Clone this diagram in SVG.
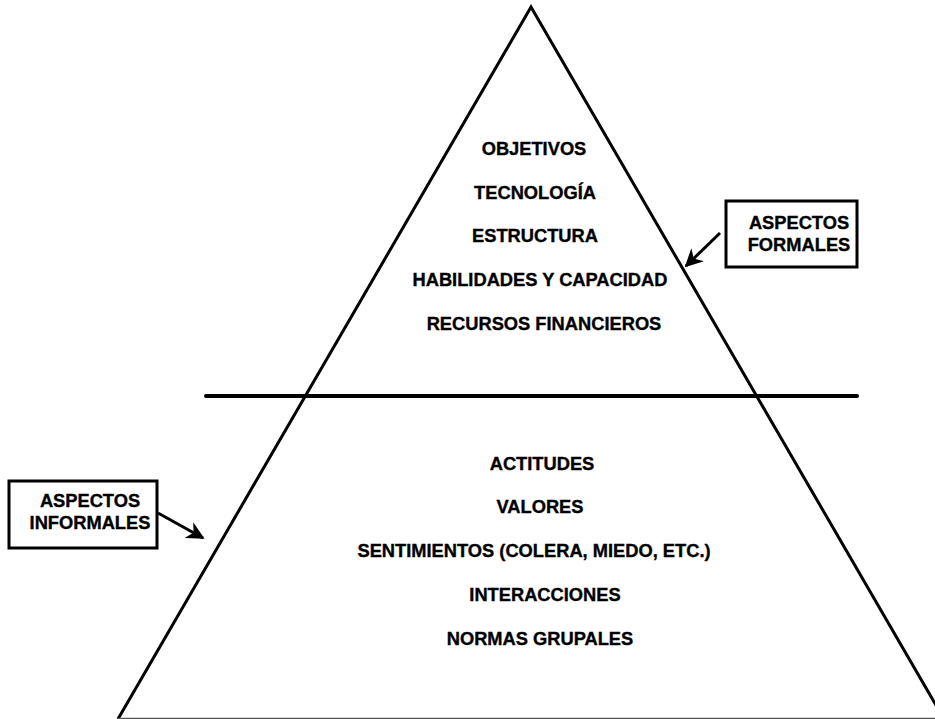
<svg xmlns="http://www.w3.org/2000/svg" width="935" height="719" viewBox="0 0 935 719">
<style>
.t{font-family:"Liberation Sans",Arial,sans-serif;font-weight:bold;font-size:18.3px;fill:#000;stroke:#000;stroke-width:0.35}
.edge{fill:none;stroke:#000;stroke-width:3}
.box{fill:#fff;stroke:#000;stroke-width:3}
</style>
<defs>
<marker id="ah" viewBox="0 0 10 10" refX="9" refY="5" markerWidth="6" markerHeight="6" orient="auto" markerUnits="strokeWidth">
<path d="M0,0 L10,5 L0,10 L3,5 Z" fill="#000"/>
</marker>
</defs>
<g id="pyramid">
<path class="edge" d="M118,719 L531,7 L944,719"/>
<line x1="118" y1="718.5" x2="935" y2="718.5" stroke="#555" stroke-width="1.5"/>
<line x1="206" y1="396" x2="857" y2="396" stroke="#000" stroke-width="4" stroke-linecap="round"/>
</g>
<g id="formal-items">
<text class="t" x="534" y="155" text-anchor="middle">OBJETIVOS</text>
<text class="t" x="535" y="199" text-anchor="middle">TECNOLOGÍA</text>
<text class="t" x="535" y="242" text-anchor="middle">ESTRUCTURA</text>
<text class="t" x="540" y="286" text-anchor="middle">HABILIDADES Y CAPACIDAD</text>
<text class="t" x="544" y="330" text-anchor="middle">RECURSOS FINANCIEROS</text>
</g>
<g id="informal-items">
<text class="t" x="542" y="470" text-anchor="middle">ACTITUDES</text>
<text class="t" x="540" y="513" text-anchor="middle">VALORES</text>
<text class="t" x="534" y="557" text-anchor="middle">SENTIMIENTOS (COLERA, MIEDO, ETC.)</text>
<text class="t" x="545" y="601" text-anchor="middle">INTERACCIONES</text>
<text class="t" x="540" y="645" text-anchor="middle">NORMAS GRUPALES</text>
</g>
<g id="aspectos-formales">
<rect class="box" x="726" y="201" width="131" height="66"/>
<text class="t" x="799" y="229" text-anchor="middle">ASPECTOS</text>
<text class="t" x="799" y="251" text-anchor="middle">FORMALES</text>
</g>
<g id="aspectos-informales">
<rect class="box" x="9" y="481" width="148" height="67"/>
<text class="t" x="90" y="507" text-anchor="middle">ASPECTOS</text>
<text class="t" x="90" y="529" text-anchor="middle">INFORMALES</text>
</g>
<g id="connectors">
<line x1="720" y1="233" x2="686" y2="266" stroke="#000" stroke-width="3" marker-end="url(#ah)"/>
<line x1="158" y1="513" x2="203" y2="538" stroke="#000" stroke-width="3" marker-end="url(#ah)"/>
</g>
</svg>
